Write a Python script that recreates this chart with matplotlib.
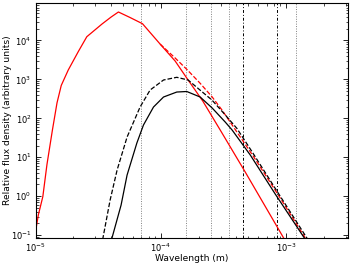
import numpy as np
import matplotlib
matplotlib.use("Agg")
import matplotlib.pyplot as plt

# ---- data (wavelength in m, flux in arbitrary units) ----
red_wl = [1.0e-5, 1.05e-5, 1.14e-5, 1.23e-5, 1.36e-5, 1.48e-5, 1.60e-5, 1.82e-5,
          2.19e-5, 2.56e-5, 3.39e-5, 4.0e-5, 4.58e-5, 5.67e-5, 7.13e-5, 9.86e-5,
          1.30e-4, 1.63e-4, 2.16e-4, 2.98e-4, 4.72e-4, 9.57e-4, 1.05e-3]
red_flux = [0.13, 0.33, 0.97, 6.5, 50, 250, 700, 1746,
            5200, 1.25e4, 2.66e4, 4.0e4, 5.4e4, 3.9e4, 2.7e4, 8.1e3,
            2970, 1023, 279, 50, 4.17, 0.084, 0.05]

red_dash_wl = [9.86e-5, 1.30e-4, 1.63e-4, 2.06e-4, 2.56e-4, 3.08e-4, 5.51e-4,
               8.67e-4, 1.425e-3, 1.62e-3]
red_dash_flux = [8.1e3, 3550, 1746, 794, 359, 163, 10.3, 1.07, 0.084, 0.044]

bd_wl = [3.33e-5, 3.44e-5, 3.93e-5, 4.47e-5, 5.37e-5, 6.82e-5, 8.2e-5, 1.05e-4,
         1.34e-4, 1.65e-4, 2.13e-4, 2.56e-4, 3.27e-4, 4.05e-4, 5.37e-4, 8.35e-4,
         1.45e-3, 1.65e-3]
bd_flux = [0.052, 0.082, 0.79, 4.69, 33, 195, 533, 966,
           1133, 966, 483, 295, 122, 55, 13.6, 1.44,
           0.089, 0.046]

bs_wl = [3.96e-5, 4.06e-5, 4.81e-5, 5.37e-5, 6.43e-5, 7.26e-5, 8.73e-5, 1.05e-4,
         1.34e-4, 1.61e-4, 2.06e-4, 2.57e-4, 3.27e-4, 3.71e-4, 5.18e-4, 8.2e-4,
         1.40e-3, 1.59e-3]
bs_flux = [0.052, 0.082, 0.59, 3.48, 23.2, 67.3, 195, 353,
           474, 489, 353, 184, 80, 50, 11.4, 1.13,
           0.084, 0.044]

# observing bands
dotted_bands = [70e-6, 160e-6, 250e-6, 350e-6, 1.2e-3]
dashdot_bands = [450e-6, 850e-6]

fig = plt.figure(figsize=(3.5, 2.63), dpi=100)
ax = fig.add_axes([0.102, 0.095, 0.891, 0.895])

for wl in dotted_bands:
    ax.axvline(wl, color='0.5', linestyle=(0, (1, 1.5)), linewidth=0.7)
for wl in dashdot_bands:
    ax.axvline(wl, color='k', linestyle=(0, (3, 2, 1, 2)), linewidth=0.7)

ax.plot(red_wl, red_flux, color='red', linewidth=0.9)
ax.plot(red_dash_wl, red_dash_flux, color='red', linewidth=0.9, linestyle='--')
ax.plot(bd_wl, bd_flux, color='k', linewidth=0.9, linestyle='--')
ax.plot(bs_wl, bs_flux, color='k', linewidth=0.9)

ax.set_xscale('log')
ax.set_yscale('log')
ax.set_xlim(1e-5, 3.1e-3)
ax.set_ylim(0.084, 9.4e4)

ax.tick_params(which='both', direction='in', top=True, right=True, labelsize=6)
ax.tick_params(axis='x', pad=2.5)
ax.tick_params(axis='y', pad=3)
ax.tick_params(which='major', length=3.5, width=0.6)
ax.tick_params(which='minor', length=1.8, width=0.5)
for s in ax.spines.values():
    s.set_linewidth(0.8)

ax.set_xlabel('Wavelength (m)', fontsize=6.6, labelpad=0)
ax.set_ylabel('Relative flux density (arbitrary units)', fontsize=6.6)
ax.yaxis.set_label_coords(-0.077, 0.5)

fig.savefig('out.png', dpi=100)
